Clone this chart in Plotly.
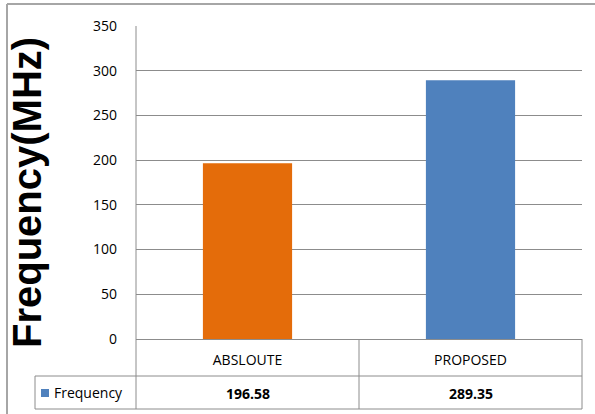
import plotly.graph_objects as go

categories = ["ABSLOUTE", "PROPOSED"]
frequency = [196.58, 289.35]
bar_colors = ["#E46C0A", "#4F81BD"]
series_name = "Frequency"
y_ticks = [0, 50, 100, 150, 200, 250, 300, 350]

W, H = 595, 414
L, R, T, B = 136, 13, 26, 75
PW, PH = W - L - R, H - T - B


def px_x(x):
    return (x - L) / PW


def px_y(y):
    return (H - B - y) / PH


GRID = "#8c8c8c"
FRAME = "#a6a6a6"

fig = go.Figure()
fig.add_trace(go.Bar(
    x=categories, y=frequency, name=series_name, width=0.4,
    marker=dict(color=bar_colors, line=dict(width=0)),
    showlegend=False,
))

shapes = []


def line(x0, y0, x1, y1, color=GRID, width=1):
    shapes.append(dict(type="line", xref="paper", yref="paper",
                       x0=px_x(x0), y0=px_y(y0), x1=px_x(x1), y1=px_y(y1),
                       line=dict(color=color, width=width)))


# data table grid under the plot
line(136, 376, 582, 376)
line(35, 376, 35, 409)
line(35, 376, 136, 376)
line(35, 409, 582, 409)
line(136, 26, 136, 409)
line(359, 339, 359, 409)
line(582, 339, 582, 409)
# outer chart frame
line(7, 4, 600, 4, FRAME, 2)
line(7, 4, 7, 420, FRAME, 2)

# legend key in the table
shapes.append(dict(type="rect", xref="paper", yref="paper",
                   x0=px_x(41), x1=px_x(49), y0=px_y(389), y1=px_y(397),
                   fillcolor=bar_colors[1], line=dict(width=0)))

annotations = [
    dict(text="Frequency(MHz)", xref="paper", yref="paper",
         x=px_x(27), y=px_y(193), textangle=-90, showarrow=False,
         xanchor="center", yanchor="middle",
         font=dict(family="Liberation Sans", size=40, color="black", weight="bold")),
    dict(text=series_name, xref="paper", yref="paper",
         x=px_x(52), y=px_y(392), showarrow=False, xanchor="left", yanchor="middle",
         font=dict(family="Open Sans", size=14, color="black")),
]
for c, v in zip(categories, frequency):
    annotations.append(dict(text=f"{v:.2f}", xref="x", yref="paper",
                            x=c, y=px_y(393), showarrow=False,
                            xanchor="center", yanchor="middle",
                            font=dict(family="Open Sans", size=14, color="black", weight="bold")))

fig.update_layout(
    width=W, height=H,
    margin=dict(l=L, r=R, t=T, b=B),
    paper_bgcolor="white", plot_bgcolor="white",
    font=dict(family="Open Sans", size=14, color="black"),
    shapes=shapes, annotations=annotations,
    xaxis=dict(showgrid=False, showline=True, linecolor=GRID, linewidth=1,
               ticks="", ticklabelstandoff=8, tickfont=dict(size=14)),
    yaxis=dict(range=[0, 350], tickvals=y_ticks, showgrid=True, gridcolor=GRID,
               gridwidth=1, zeroline=False, showline=False, ticks="",
               ticklabelstandoff=18, tickfont=dict(size=14)),
    bargap=0.6,
)

fig.write_html("out.html", config={"displayModeBar": False},
               post_script="document.body.style.margin='0';")
